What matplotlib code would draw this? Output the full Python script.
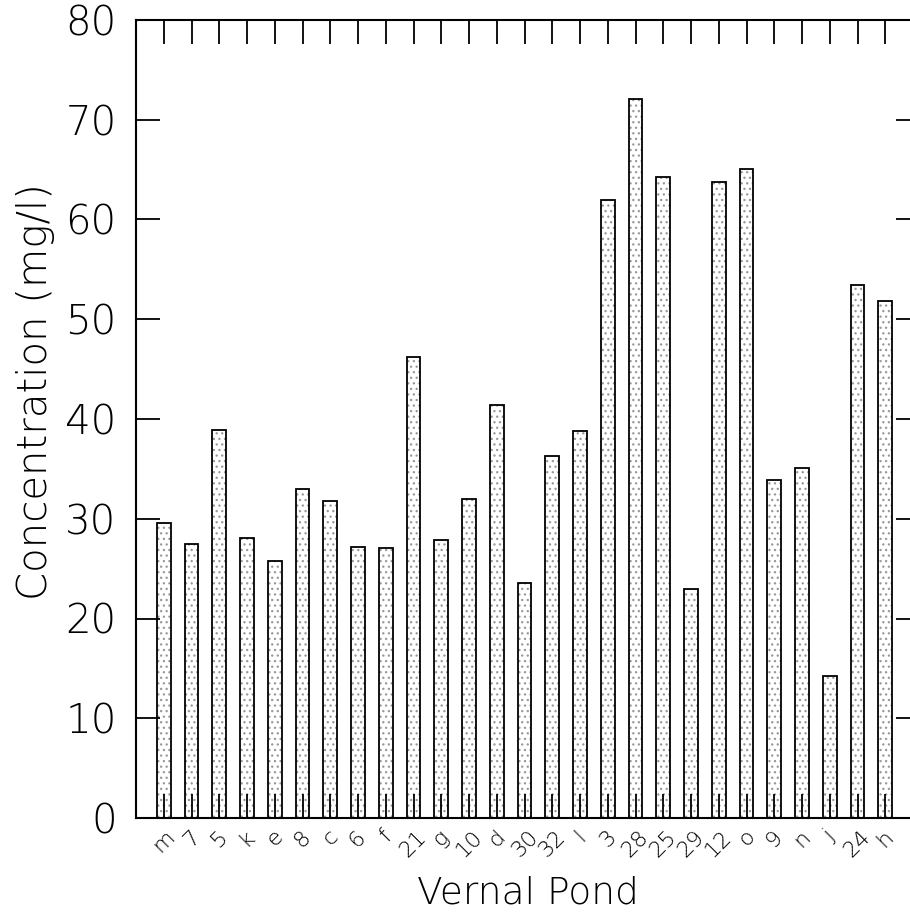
import matplotlib
matplotlib.use('Agg')
import matplotlib.pyplot as plt
import numpy as np

ponds = ['m', '7', '5', 'k', 'e', '8', 'c', '6', 'f', '21', 'g', '10', 'd', '30',
         '32', 'l', '3', '28', '25', '29', '12', 'o', '9', 'n', 'j', '24', 'h']
conc = [29.6, 27.5, 38.9, 28.1, 25.8, 33.0, 31.8, 27.2, 27.1, 46.2, 27.9, 32.0, 41.4, 23.6,
        36.3, 38.8, 62.0, 72.1, 64.3, 23.0, 63.8, 65.1, 33.9, 35.1, 14.2, 53.4, 51.8]
yticks = [0, 10, 20, 30, 40, 50, 60, 70, 80]

plt.rcParams['font.family'] = ['DejaVu Sans']
plt.rcParams['hatch.linewidth'] = 0.9

fig = plt.figure(figsize=(9.1, 9.18), dpi=100)
ax = fig.add_axes([136/910, 1 - 818/918, 784/910, 798/918])

x = np.arange(len(ponds))
# stippled fill, then black outline on top
ax.bar(x, conc, width=0.5, color='white', edgecolor='#999999', hatch='...', linewidth=0)
ax.bar(x, conc, width=0.5, fill=False, edgecolor='black', linewidth=1.3)

ax.set_xlim(-1.0, 27.25)
ax.set_ylim(0, 80)
ax.set_xticks(x)
ax.set_xticklabels(ponds, rotation=45, fontsize=16, fontweight='light')
ax.set_yticks(yticks)
ax.set_yticklabels([str(v) for v in yticks], fontsize=29, fontweight='light')
ax.tick_params(direction='in', length=17, width=1.3, top=True, right=True)
ax.tick_params(axis='x', pad=6)
ax.tick_params(axis='y', pad=14)
for s in ax.spines.values():
    s.set_linewidth(1.5)

ax.set_xlabel('Vernal Pond', fontsize=27, fontweight='light', labelpad=11)
ax.set_ylabel('Concentration (mg/l)', fontsize=29, fontweight='light')
ax.yaxis.set_label_coords(-0.103, 0.534)

fig.savefig('out.png', dpi=100)
